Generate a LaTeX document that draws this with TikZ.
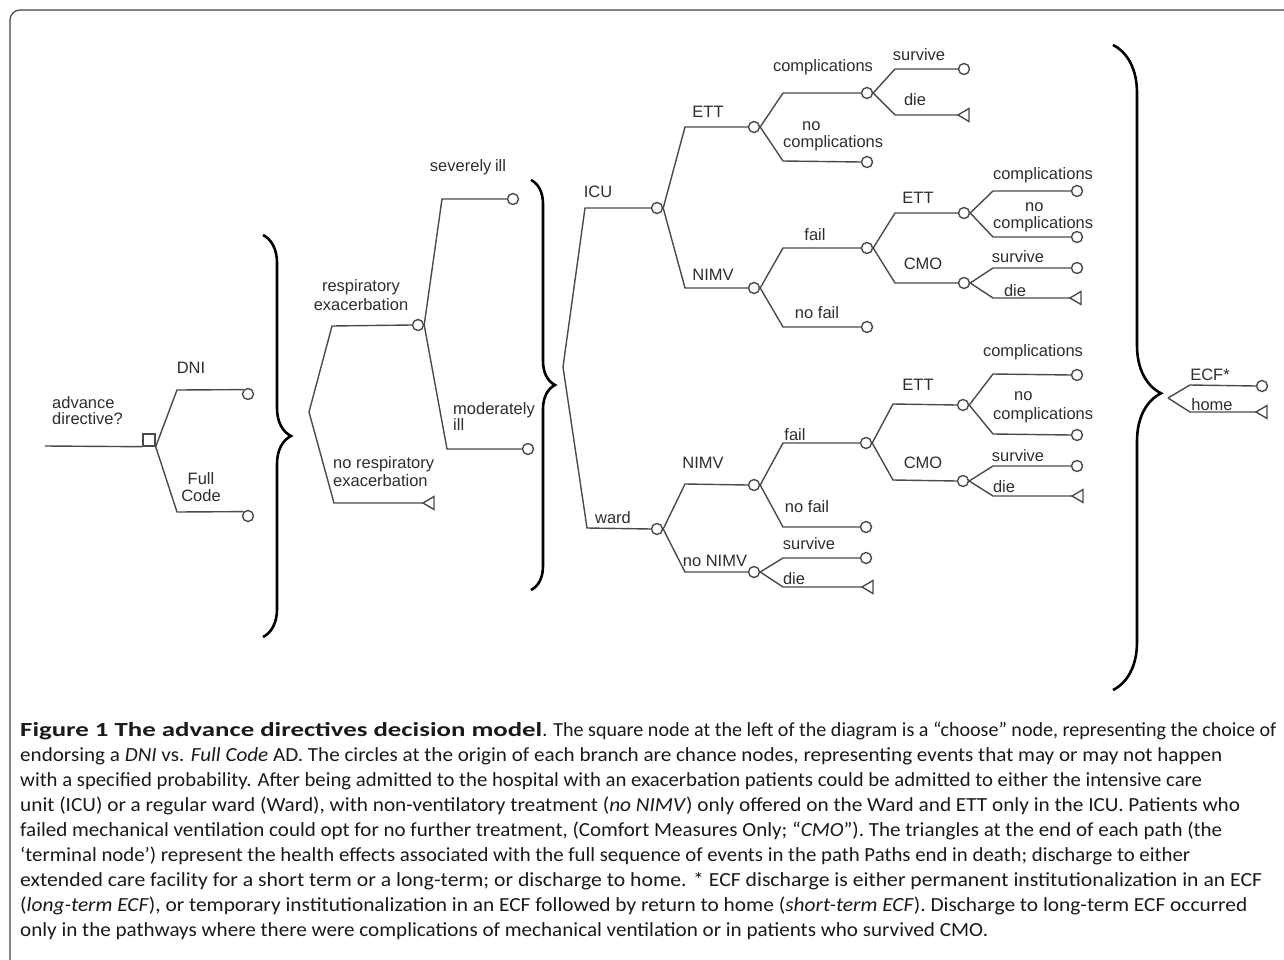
\documentclass[tikz,border=0pt]{standalone}
\usepackage{fontspec}
\setmainfont{Carlito}
\newfontfamily\labfont{Liberation Sans}
\usepackage{graphicx}
\usetikzlibrary{decorations.pathreplacing}
\definecolor{labc}{HTML}{2E2E2E}
\definecolor{linec}{HTML}{4A4A4A}
\definecolor{framec}{HTML}{444444}
\definecolor{capc}{HTML}{1A1A1A}
\newcommand\capl[2]{\resizebox{#1}{\height}{#2}}
\tikzset{
  br/.style={draw=linec, line width=1.4pt},
  cn/.style={circle, draw=linec, line width=1.4pt, fill=white, minimum size=11pt, inner sep=0pt},
  dn/.style={rectangle, draw=linec, line width=1.4pt, fill=white, minimum size=12pt, inner sep=0pt},
  term/.pic={\draw[br, fill=white] (0,0) -- (11,-6.5) -- (11,6.5) -- cycle;},
  lab/.style={font=\labfont\fontsize{16.5}{19}\selectfont, text=labc, inner sep=0pt},
  brc/.style={draw=black, line width=2.6pt, decorate},
  capline/.style={anchor=base west, inner sep=0pt, text=capc, font=\fontsize{20}{25}\selectfont}
}
\begin{document}
\begin{tikzpicture}[x=1pt,y=-1pt]
\useasboundingbox (0,0) rectangle (1284,960);
\fill[white] (0,0) rectangle (1284,960);
% frame
\draw[framec, line width=1.2pt, rounded corners=10pt] (10,1000) -- (10,10) -- (1320,10);

% ---------- root decision ----------
\coordinate (r0) at (45,446);
\node[dn] (ad) at (149,440) {};
\draw[br] (r0) -- (ad.south west);
\node[lab, anchor=west, align=left] (adl) at (52,411) {advance\\[-3pt]directive?};

\coordinate (dniC) at (177,390);
\node[cn] (dniN) at (248,394) {};
\draw[br] (ad.south east) -- (dniC) -- (dniN.north west);
\node[lab] (dnil) at (191,368) {DNI};

\coordinate (fcC) at (177,512);
\node[cn] (fcN) at (248,516) {};
\draw[br] (ad.south east) -- (fcC) -- (fcN.north west);
\node[lab, align=center] (fcl) at (201,487) {Full\\[-2pt]Code};

% brace 1
\draw[brc, decoration={brace, amplitude=28pt}] (263,235) -- (263,637);

% ---------- exacerbation ----------
\coordinate (rf) at (309,412);
\coordinate (reC) at (332,326);
\node[cn] (reN) at (418,325) {};
\draw[br] (rf) -- (reC) -- (reN.west);
\node[lab, align=center] (rel) at (361,295) {respiratory\\[0pt]exacerbation};

\coordinate (nreC) at (334,503);
\coordinate (nreT) at (423,503);
\draw[br] (rf) -- (nreC) -- (nreT);
\pic at (nreT) {term};
\node[lab, anchor=west, align=left] (nrel) at (333,472) {no respiratory\\[-1pt]exacerbation};

\coordinate (siC) at (442,199);
\node[cn] (siN) at (513,199) {};
\draw[br] (reN.east) -- (siC) -- (siN.west);
\node[lab] (sil) at (468,167) {severely\hspace{-1pt} ill};

\coordinate (miC) at (447,449);
\node[cn] (miN) at (528,449) {};
\draw[br] (reN.east) -- (miC) -- (miN.west);
\node[lab, anchor=west, align=left] (mil) at (453,417) {moderately\\[-3pt]ill};

% brace 2
\draw[brc, decoration={brace, amplitude=24pt}] (531,180) -- (531,590);

% ---------- hospital ----------
\coordinate (hf) at (563,367);
\coordinate (icuC) at (585,208);
\node[cn] (icuN) at (657,208) {};
\draw[br] (hf) -- (icuC) -- (icuN.west);
\node[lab] (icul) at (598,192) {ICU};

\coordinate (wardC) at (587,528);
\node[cn] (wardN) at (657,529) {};
\draw[br] (hf) -- (wardC) -- (wardN.west);
\node[lab] (wardl) at (613,518) {ward};

% ICU branch
\coordinate (ettC) at (685,127);
\node[cn] (ettN) at (754,127) {};
\draw[br] (icuN.east) -- (ettC) -- (ettN.west);
\node[lab] (ettl) at (708,112) {ETT};

\coordinate (nimvC) at (685,288);
\node[cn] (nimvN) at (754,288) {};
\draw[br] (icuN.east) -- (nimvC) -- (nimvN.west);
\node[lab] (nimvl) at (713,275) {NIMV};

\coordinate (compC) at (783,93);
\node[cn] (compN) at (867,93) {};
\draw[br] (ettN.east) -- (compC) -- (compN.west);
\node[lab] (compl) at (823,67) {complications};

\coordinate (ncompC) at (783,161);
\node[cn] (ncompN) at (867,162) {};
\draw[br] (ettN.east) -- (ncompC) -- (ncompN.west);
\node[lab, anchor=west, align=left] (ncompl) at (783,136) {\hspace*{19pt}no\\[-2pt]complications};

\coordinate (survC) at (895,69);
\node[cn] (survN) at (964,69) {};
\draw[br] (compN.east) -- (survC) -- (survN.west);
\node[lab] (survl) at (919,55) {survive};

\coordinate (dieC) at (895,115);
\coordinate (dieT) at (958,115);
\draw[br] (compN.east) -- (dieC) -- (dieT);
\pic at (dieT) {term};
\node[lab] (diel) at (915,100) {die};

\coordinate (failC) at (783,248);
\node[cn] (failN) at (867,248) {};
\draw[br] (nimvN.east) -- (failC) -- (failN.west);
\node[lab] (faill) at (815,235) {fail};

\coordinate (nfailC) at (783,327);
\node[cn] (nfailN) at (867,327) {};
\draw[br] (nimvN.east) -- (nfailC) -- (nfailN.west);
\node[lab] (nfaill) at (817,313) {no fail};

\coordinate (ett2C) at (895,213);
\node[cn] (ett2N) at (964,213) {};
\draw[br] (failN.east) -- (ett2C) -- (ett2N.west);
\node[lab] (ett2l) at (918,198) {ETT};

\coordinate (cmoC) at (895,283);
\node[cn] (cmoN) at (964,283) {};
\draw[br] (failN.east) -- (cmoC) -- (cmoN.west);
\node[lab] (cmol) at (923,264) {CMO};

\coordinate (c2C) at (993,191);
\node[cn] (c2N) at (1077,191) {};
\draw[br] (ett2N.east) -- (c2C) -- (c2N.west);
\node[lab] (c2l) at (1043,175) {complications};

\coordinate (nc2C) at (993,237);
\node[cn] (nc2N) at (1077,237) {};
\draw[br] (ett2N.east) -- (nc2C) -- (nc2N.west);
\node[lab, anchor=west, align=left] (nc2l) at (993,217) {\hspace*{32pt}no\\[-2pt]complications};

\coordinate (s2C) at (993,268);
\node[cn] (s2N) at (1077,268) {};
\draw[br] (cmoN.east) -- (s2C) -- (s2N.west);
\node[lab] (s2l) at (1018,257) {survive};

\coordinate (d2C) at (993,298);
\coordinate (d2T) at (1070,298);
\draw[br] (cmoN.east) -- (d2C) -- (d2T);
\pic at (d2T) {term};
\node[lab] (d2l) at (1015,291) {die};

% ward branch
\coordinate (wnimvC) at (685,484);
\node[cn] (wnimvN) at (754,485) {};
\draw[br] (wardN.east) -- (wnimvC) -- (wnimvN.west);
\node[lab] (wnimvl) at (703,463) {NIMV};

\coordinate (nonimvC) at (685,572);
\node[cn] (nonimvN) at (754,572) {};
\draw[br] (wardN.east) -- (nonimvC) -- (nonimvN.west);
\node[lab] (nonimvl) at (715,561) {no NIMV};

\coordinate (wfailC) at (783,443);
\node[cn] (wfailN) at (866,443) {};
\draw[br] (wnimvN.east) -- (wfailC) -- (wfailN.west);
\node[lab] (wfaill) at (795,435) {fail};

\coordinate (wnfailC) at (783,527);
\node[cn] (wnfailN) at (866,527) {};
\draw[br] (wnimvN.east) -- (wnfailC) -- (wnfailN.west);
\node[lab] (wnfaill) at (807,507) {no fail};

\coordinate (ws3C) at (783,558);
\node[cn] (ws3N) at (866,558) {};
\draw[br] (nonimvN.east) -- (ws3C) -- (ws3N.west);
\node[lab] (ws3l) at (809,544) {survive};

\coordinate (wd3C) at (783,587);
\coordinate (wd3T) at (862,587);
\draw[br] (nonimvN.east) -- (wd3C) -- (wd3T);
\pic at (wd3T) {term};
\node[lab] (wd3l) at (794,579) {die};

\coordinate (ett3C) at (893,404);
\node[cn] (ett3N) at (963,405) {};
\draw[br] (wfailN.east) -- (ett3C) -- (ett3N.west);
\node[lab] (ett3l) at (918,385) {ETT};

\coordinate (cmo3C) at (893,480);
\node[cn] (cmo3N) at (963,481) {};
\draw[br] (wfailN.east) -- (cmo3C) -- (cmo3N.west);
\node[lab] (cmo3l) at (923,463) {CMO};

\coordinate (c3C) at (993,374);
\node[cn] (c3N) at (1077,375) {};
\draw[br] (ett3N.east) -- (c3C) -- (c3N.west);
\node[lab] (c3l) at (1033,352) {complications};

\coordinate (nc3C) at (993,434);
\node[cn] (nc3N) at (1077,435) {};
\draw[br] (ett3N.east) -- (nc3C) -- (nc3N.west);
\node[lab, anchor=west, align=left] (nc3l) at (993,407) {\hspace*{21pt}no\\[0pt]complications};

\coordinate (s4C) at (993,466);
\node[cn] (s4N) at (1077,466) {};
\draw[br] (cmo3N.east) -- (s4C) -- (s4N.west);
\node[lab] (s4l) at (1018,456) {survive};

\coordinate (d4C) at (993,496);
\coordinate (d4T) at (1072,496);
\draw[br] (cmo3N.east) -- (d4C) -- (d4T);
\pic at (d4T) {term};
\node[lab] (d4l) at (1004,487) {die};

% brace 3
\draw[brc, decoration={brace, amplitude=48pt, aspect=0.54}] (1113,45) -- (1113,690);

% discharge
\coordinate (ef) at (1168,398);
\coordinate (ecfC) at (1190,385);
\node[cn] (ecfN) at (1262,386) {};
\draw[br] (ef) -- (ecfC) -- (ecfN.west);
\node[lab] (ecfl) at (1210,375) {ECF*};

\coordinate (homeC) at (1190,412);
\coordinate (homeT) at (1256,412);
\draw[br] (ef) -- (homeC) -- (homeT);
\pic at (homeT) {term};
\node[lab] (homel) at (1212,405) {home};

% ---------- caption ----------
\node[capline] (cap1) at (20,736) {\capl{522pt}{\textbf{Figure 1 The advance directives decision model}}\capl{734pt}{. The square node at the left of the diagram is a “choose” node, representing the choice of}};
\node[capline] (cap2) at (20,761) {\capl{1202pt}{endorsing a \textit{DNI} vs. \textit{Full Code} AD. The circles at the origin of each branch are chance nodes, representing events that may or may not happen}};
\node[capline] (cap3) at (20,786) {\capl{1182pt}{with a specified probability. After being admitted to the hospital with an exacerbation patients could be admitted to either the intensive care}};
\node[capline] (cap4) at (20,811) {\capl{1220pt}{unit (ICU) or a regular ward (Ward), with non-ventilatory treatment (\textit{no NIMV}) only offered on the Ward and ETT only in the ICU. Patients who}};
\node[capline] (cap5) at (20,836) {\capl{1202pt}{failed mechanical ventilation could opt for no further treatment, (Comfort Measures Only; “\textit{CMO}”). The triangles at the end of each path (the}};
\node[capline] (cap6) at (20,861) {\capl{1170pt}{‘terminal node’) represent the health effects associated with the full sequence of events in the path Paths end in death; discharge to either}};
\node[capline] (cap7) at (20,886) {\capl{1242pt}{extended care facility for a short term or a long-term; or discharge to home. * ECF discharge is either permanent institutionalization in an ECF}};
\node[capline] (cap8) at (20,911) {\capl{1227pt}{(\textit{long-term ECF}), or temporary institutionalization in an ECF followed by return to home (\textit{short-term ECF}). Discharge to long-term ECF occurred}};
\node[capline] (cap9) at (20,936) {\capl{968pt}{only in the pathways where there were complications of mechanical ventilation or in patients who survived CMO.}};
\end{tikzpicture}
\end{document}
